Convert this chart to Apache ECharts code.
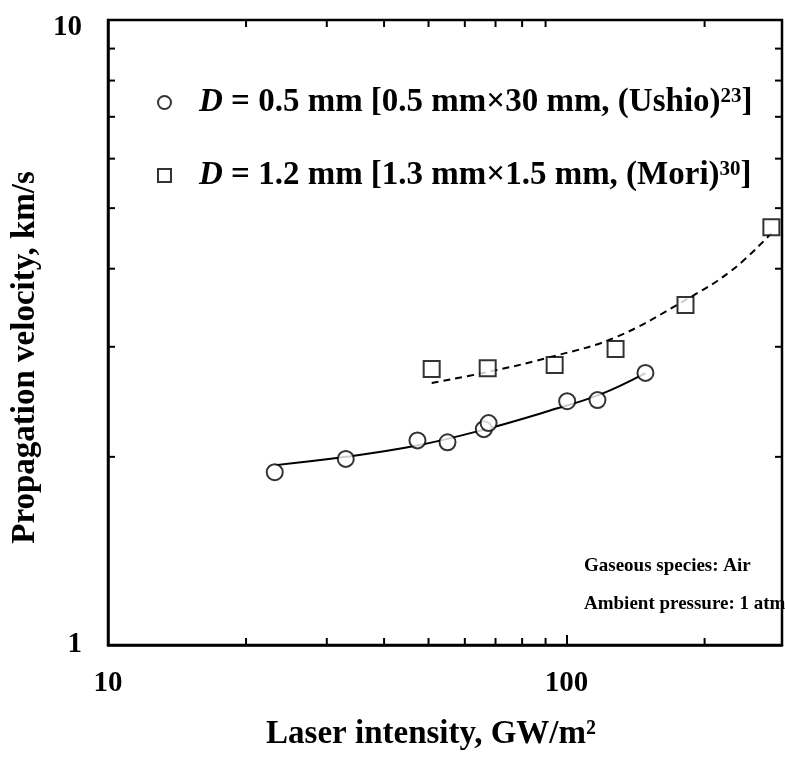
<!DOCTYPE html>
<html>
<head>
<meta charset="utf-8">
<script src="https://cdn.jsdelivr.net/npm/echarts@6/dist/echarts.min.js"></script>
<style>
html,body{margin:0;padding:0;background:#fff;}
#chart{width:785px;height:763px;}
</style>
</head>
<body>
<div id="chart"></div>
<script>
// ---- data ----
const xMin = 10, xMax = 295;
const yMin = 1, yMax = 10;
const xLabelValues = [10, 100];
const yLabelValues = [1, 10];
const xMinorTicks = [20, 30, 40, 50, 60, 70, 80, 90, 200];
const yMinorTicks = [2, 3, 4, 5, 6, 7, 8, 9];

const ushioX = [23.1, 33.0, 47.3, 55.0, 66.0, 67.6, 100.3, 116.8, 148.6];
const ushioY = [1.89, 1.985, 2.125, 2.11, 2.215, 2.265, 2.455, 2.465, 2.725];
const moriX = [50.8, 67.3, 94.2, 127.9, 181.7, 279.7];
const moriY = [2.765, 2.773, 2.805, 2.976, 3.50, 4.66];

const ushioFitX = [23.2, 33.0, 47.2, 65.6, 91.7, 118.1, 148.6];
const ushioFitY = [1.94, 2.00, 2.085, 2.208, 2.37, 2.515, 2.723];
const moriFitX = [50.8, 67.3, 94.2, 128.4, 181.7, 229.7, 279.7];
const moriFitY = [2.626, 2.734, 2.900, 3.11, 3.565, 3.98, 4.56];

const legendTexts = {
  'Ushio': '{g|}{i|D} = 0.5 mm [0.5 mm×30 mm, (Ushio){s|23}]',
  'Mori': '{g|}{i|D} = 1.2 mm [1.3 mm×1.5 mm, (Mori){s|30}]'
};
const noteLines = ['Gaseous species: Air', 'Ambient pressure: 1 atm'];
const xName = 'Laser intensity, GW/m²';
const yName = 'Propagation velocity, km/s';

// ---- chart ----
const FONT = "'Liberation Serif', 'Times New Roman', serif";
const zip = (a, b) => a.map((v, i) => [v, b[i]]);
const chart = echarts.init(document.getElementById('chart'), null, {renderer: 'canvas'});

const legendText = {
  fontFamily: FONT, fontWeight: 'bold', fontSize: 33, color: '#000',
  rich: {
    g: {width: 23},
    i: {fontFamily: FONT, fontWeight: 'bold', fontStyle: 'italic', fontSize: 33, color: '#000'},
    s: {fontFamily: FONT, fontWeight: 'bold', fontSize: 21, color: '#000', verticalAlign: 'top'}
  }
};

function tickSeries(values, isX) {
  return {
    type: 'custom',
    silent: true,
    clip: false,
    z: 5,
    data: values.map(v => isX ? [v, yMin] : [xMin, v]),
    encode: {x: 0, y: 1},
    renderItem: function (params, api) {
      const len = 7;
      const st = {stroke: '#000', lineWidth: 2};
      if (isX) {
        const v = api.value(0);
        const b = api.coord([v, yMin]);
        const t = api.coord([v, yMax]);
        return {type: 'group', children: [
          {type: 'line', shape: {x1: b[0], y1: b[1], x2: b[0], y2: b[1] - len}, style: st},
          {type: 'line', shape: {x1: t[0], y1: t[1], x2: t[0], y2: t[1] + len}, style: st}
        ]};
      } else {
        const v = api.value(1);
        const l = api.coord([xMin, v]);
        const r = api.coord([xMax, v]);
        return {type: 'group', children: [
          {type: 'line', shape: {x1: l[0], y1: l[1], x2: l[0] + len, y2: l[1]}, style: st},
          {type: 'line', shape: {x1: r[0], y1: r[1], x2: r[0] - len, y2: r[1]}, style: st}
        ]};
      }
    }
  };
}

function legendCfg(name, icon, top) {
  return {
    data: [{name: name, icon: icon}], left: 157, top: top, padding: 0,
    itemWidth: 13, itemHeight: 13, selectedMode: false,
    itemStyle: {color: '#000', borderColor: '#000', borderWidth: 1.6},
    formatter: n => legendTexts[n], textStyle: legendText
  };
}

const option = {
  backgroundColor: '#fff',
  animation: false,
  grid: {
    left: 108, right: 2, top: 20, bottom: 118,
    show: true, borderColor: '#000', borderWidth: 2.5, backgroundColor: 'transparent'
  },
  xAxis: {
    type: 'log', logBase: 10, min: xMin, max: xMax,
    name: xName, nameLocation: 'middle', nameGap: 73,
    nameTextStyle: {fontFamily: FONT, fontWeight: 'bold', fontSize: 33, color: '#000', padding: [0, 28, 0, 0]},
    axisLine: {show: true, lineStyle: {color: '#000', width: 2.5}},
    axisTick: {show: true, inside: true, length: 10, lineStyle: {color: '#000', width: 2}},
    minorTick: {show: false},
    splitLine: {show: false},
    axisLabel: {
      margin: 24, fontFamily: FONT, fontWeight: 'bold', fontSize: 29, color: '#000',
      formatter: v => xLabelValues.some(t => Math.abs(t - v) < 1e-6) ? String(v) : ''
    }
  },
  yAxis: {
    type: 'log', logBase: 10, min: yMin, max: yMax,
    name: yName, nameLocation: 'middle', nameGap: 61,
    nameTextStyle: {fontFamily: FONT, fontWeight: 'bold', fontSize: 33, color: '#000', padding: [0, 50, 0, 0]},
    axisLine: {show: true, lineStyle: {color: '#000', width: 2.5}},
    axisTick: {show: false},
    splitLine: {show: false},
    axisLabel: {
      margin: 26, fontFamily: FONT, fontWeight: 'bold', fontSize: 29, color: '#000',
      formatter: v => {
        if (!yLabelValues.some(t => Math.abs(t - v) < 1e-6)) return '';
        return v >= yMax - 1e-6 ? '{top|' + v + '}' : String(v);
      },
      rich: {top: {fontFamily: FONT, fontWeight: 'bold', fontSize: 29, color: '#000', padding: [16, 0, 0, 0]}}
    }
  },
  legend: [
    legendCfg('Ushio', 'emptyCircle', 86),
    legendCfg('Mori', 'emptyRect', 159)
  ],
  graphic: [
    {type: 'text', left: 584, top: 557, z: 10,
     style: {text: noteLines[0], fontFamily: FONT, fontWeight: 'bold', fontSize: 19, fill: '#000'}},
    {type: 'text', left: 584, top: 595, z: 10,
     style: {text: noteLines[1], fontFamily: FONT, fontWeight: 'bold', fontSize: 19, fill: '#000'}}
  ],
  series: [
    {
      name: 'UshioFit', type: 'line', data: zip(ushioFitX, ushioFitY),
      smooth: 0.4, symbol: 'none', silent: true, z: 2,
      lineStyle: {color: '#000', width: 2, type: 'solid'}
    },
    {
      name: 'MoriFit', type: 'line', data: zip(moriFitX, moriFitY),
      smooth: 0.4, symbol: 'none', silent: true, z: 2,
      lineStyle: {color: '#000', width: 2, type: [7, 5]}
    },
    {
      name: 'Ushio', type: 'scatter', data: zip(ushioX, ushioY),
      symbol: 'emptyCircle', symbolSize: 16, z: 3,
      itemStyle: {color: '#000', borderColor: '#000', borderWidth: 1.8}
    },
    {
      name: 'Mori', type: 'scatter', data: zip(moriX, moriY),
      symbol: 'emptyRect', symbolSize: 16, z: 3,
      itemStyle: {color: '#000', borderColor: '#000', borderWidth: 1.8}
    },
    tickSeries(xMinorTicks, true),
    tickSeries(yMinorTicks, false)
  ]
};
chart.setOption(option);
</script>
</body>
</html>
